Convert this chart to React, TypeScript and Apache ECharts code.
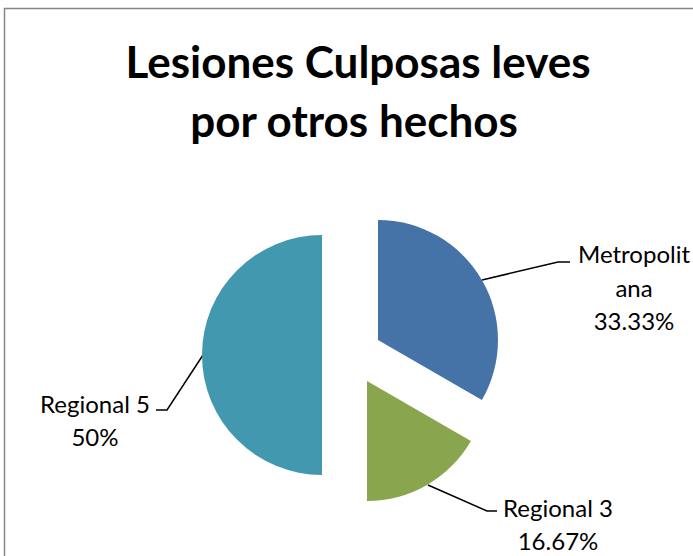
import React, { useEffect, useRef } from "react";
import * as echarts from "echarts";

const categories = ["Metropolitana", "Regional 3", "Regional 5"];
const values = [2, 1, 3];
const labelNames = ["Metropolit\nana", "Regional 3", "Regional 5"];
const colors = ["#4572A7", "#89A54E", "#4198AF"];
const titleLines = ["Lesiones Culposas leves", "por otros hechos"];

function pct(i: number) {
  const total = values.reduce((a, b) => a + b, 0);
  const p = Math.round((values[i] / total) * 10000) / 100;
  return `${p}%`;
}

export default function App() {
  const ref = useRef<HTMLDivElement>(null);
  useEffect(() => {
    if (!ref.current) return;
    const chart = echarts.init(ref.current, undefined, { renderer: "svg" });
    const labelPos = [
      { x: 634, y: 287, line: [[482, 280], [558, 262], [570, 262]] },
      { x: 558, y: 524, line: [[428, 485], [487, 511], [497, 511]] },
      { x: 95, y: 420, line: [[203, 355], [167, 410], [156, 410]] },
    ];
    const labelGraphics: any[] = [];
    categories.forEach((_, i) => {
      const l = labelPos[i];
      labelGraphics.push({
        type: "polyline",
        shape: { points: l.line },
        style: { stroke: "#000", lineWidth: 1.5, fill: "none" },
        silent: true,
      });
      labelGraphics.push({
        type: "text",
        style: {
          x: l.x,
          y: l.y,
          text: `${labelNames[i]}\n${pct(i)}`,
          textAlign: "center",
          textVerticalAlign: "middle",
          font: "24px Lato",
          lineHeight: 33.5,
          fill: "#000",
        },
      });
    });
    chart.setOption({
      animation: false,
      backgroundColor: "#ffffff",
      graphic: [
        {
          type: "rect",
          shape: { x: 4.5, y: 8.5, width: 900, height: 900 },
          style: { fill: "none", stroke: "#868686", lineWidth: 1.5 },
          silent: true,
        },
        {
          type: "text",
          style: {
            x: 358,
            y: 61,
            text: titleLines[0],
            textAlign: "center",
            textVerticalAlign: "middle",
            font: "bold 44px Lato",
            fill: "#000",
          },
        },
        {
          type: "text",
          style: {
            x: 354,
            y: 120,
            text: titleLines[1],
            textAlign: "center",
            textVerticalAlign: "middle",
            font: "bold 44px Lato",
            fill: "#000",
          },
        },
        ...labelGraphics,
      ],
      series: [
        {
          type: "pie",
          center: [352, 355],
          radius: 120,
          startAngle: 90,
          clockwise: true,
          selectedMode: "multiple",
          selectedOffset: 30,
          emphasis: { disabled: true },
          data: categories.map((c, i) => ({
            name: c,
            value: values[i],
            selected: true,
            itemStyle: { color: colors[i] },
          })),
          label: { show: false },
          labelLine: { show: false },
        },
      ],
    });
    return () => chart.dispose();
  }, []);
  return (
    <div
      ref={ref}
      style={{ position: "absolute", left: 0, top: 0, width: 693, height: 556 }}
    />
  );
}
